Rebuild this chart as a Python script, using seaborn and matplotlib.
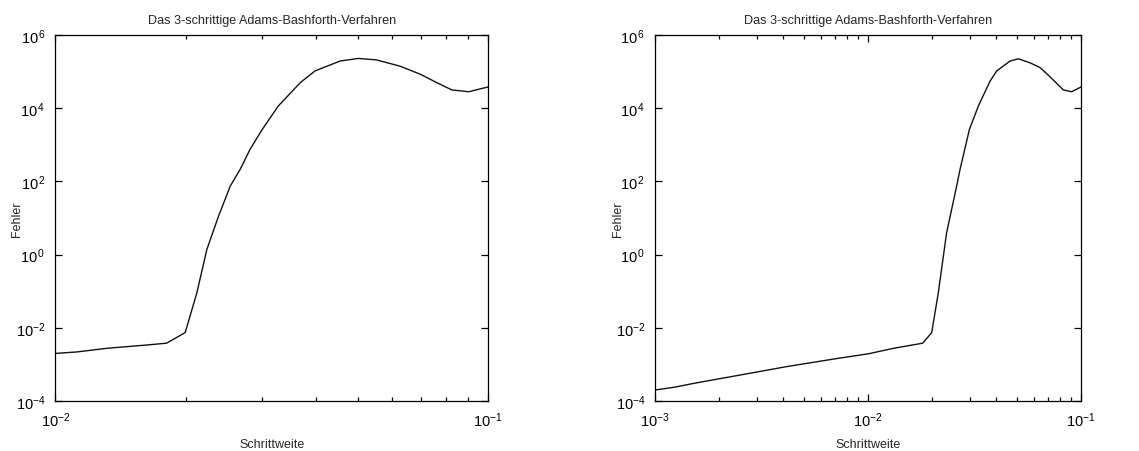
import numpy as np
import pandas as pd
import matplotlib
matplotlib.use("Agg")
import matplotlib.pyplot as plt
import matplotlib.ticker as mticker
import seaborn as sns

# ------------------------------
# Daten (log10-Werte)
# ------------------------------
log_h_left = [-2.0, -1.951, -1.881, -1.789, -1.743, -1.700, -1.673, -1.650, -1.623,
              -1.596, -1.573, -1.550, -1.522, -1.485, -1.434, -1.400, -1.342, -1.300,
              -1.258, -1.204, -1.157, -1.119, -1.084, -1.045, -1.018, -1.0]
log_err_left = [-2.70, -2.66, -2.56, -2.47, -2.42, -2.13, -1.04, 0.14, 1.05,
                1.87, 2.33, 2.88, 3.42, 4.06, 4.70, 5.02, 5.29, 5.36,
                5.32, 5.15, 4.93, 4.70, 4.50, 4.45, 4.53, 4.58]

log_h_right = [-3.0, -2.906, -2.820, -2.648, -2.382, -2.147, -1.998, -1.881, -1.743,
               -1.701, -1.670, -1.631, -1.584, -1.568, -1.524, -1.482, -1.427, -1.396,
               -1.333, -1.294, -1.239, -1.192, -1.146, -1.083, -1.044, -1.0]
log_err_right = [-3.70, -3.62, -3.52, -3.34, -3.06, -2.84, -2.71, -2.56, -2.42,
                 -2.13, -1.04, 0.60, 1.87, 2.33, 3.42, 4.06, 4.74, 5.02,
                 5.29, 5.35, 5.24, 5.11, 4.86, 4.50, 4.45, 4.58]

y_exponents = [-4, -2, 0, 2, 4, 6]
x_exponents_left = [-2, -1]
x_exponents_right = [-3, -2, -1]

title = "Das 3-schrittige Adams-Bashforth-Verfahren"

# ------------------------------
# Stil
# ------------------------------
sns.set_style("ticks")
plt.rcParams["font.family"] = ["Liberation Sans", "DejaVu Sans"]
plt.rcParams["mathtext.fontset"] = "custom"
plt.rcParams["mathtext.rm"] = "Liberation Sans"
plt.rcParams["mathtext.it"] = "Liberation Sans"
plt.rcParams["mathtext.default"] = "regular"

fig = plt.figure(figsize=(11.39, 4.52), dpi=100)
ax_l = fig.add_axes([0.0486, 0.1106, 0.380, 0.8097])
ax_r = fig.add_axes([0.5751, 0.1106, 0.374, 0.8097])


def pow_fmt(v, pos):
    e = int(round(np.log10(v)))
    return r"$10^{\,%d}$" % e if e >= 0 else r"$10^{-%d}$" % (-e)


def draw(ax, lh, le, xexp, ylab_x):
    df = pd.DataFrame({"h": 10.0 ** np.array(lh), "err": 10.0 ** np.array(le)})
    sns.lineplot(data=df, x="h", y="err", ax=ax, color="#111111", linewidth=1.0,
                 sort=False, estimator=None)
    ax.set_xscale("log")
    ax.set_yscale("log")
    ax.set_xlim(10.0 ** xexp[0], 10.0 ** xexp[-1])
    ax.set_ylim(10.0 ** y_exponents[0], 10.0 ** y_exponents[-1])

    ax.xaxis.set_major_locator(mticker.FixedLocator([10.0 ** e for e in xexp]))
    ax.xaxis.set_minor_locator(mticker.LogLocator(base=10, subs=np.arange(2, 10)))
    ax.xaxis.set_major_formatter(mticker.FuncFormatter(pow_fmt))
    ax.xaxis.set_minor_formatter(mticker.NullFormatter())
    ax.yaxis.set_major_locator(mticker.FixedLocator([10.0 ** e for e in y_exponents]))
    ax.yaxis.set_minor_locator(mticker.NullLocator())
    ax.yaxis.set_major_formatter(mticker.FuncFormatter(pow_fmt))

    ax.tick_params(which="both", direction="in", top=True, right=True,
                   width=0.9, color="black", labelsize=10.5, labelcolor="black")
    ax.tick_params(which="major", length=5, pad=7)
    ax.tick_params(which="minor", length=3)
    for s in ax.spines.values():
        s.set_linewidth(0.9)
        s.set_color("black")

    ax.set_title(title, fontsize=9.1, pad=9)
    ax.set_xlabel("Schrittweite", fontsize=9, labelpad=6)
    ax.set_ylabel("Fehler", fontsize=9)
    ax.yaxis.set_label_coords(ylab_x, 0.5)


draw(ax_l, log_h_left, log_err_left, x_exponents_left, -0.075)
draw(ax_r, log_h_right, log_err_right, x_exponents_right, -0.073)

fig.savefig("out.png", dpi=100)
